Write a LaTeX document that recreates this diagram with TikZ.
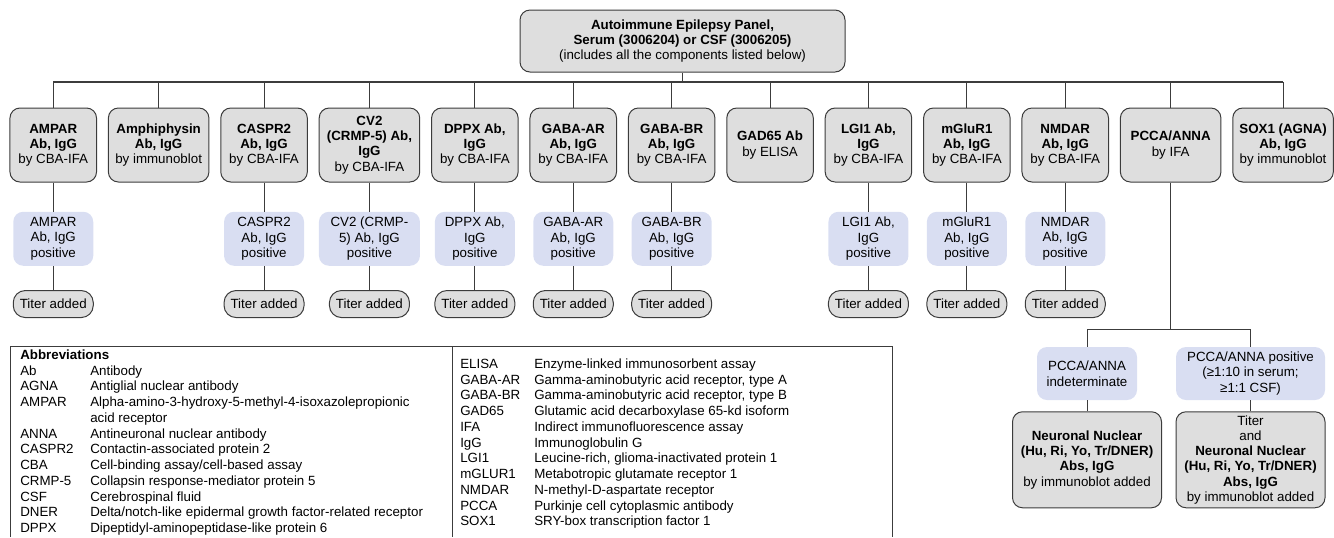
\documentclass[tikz,border=0pt]{standalone}
\usepackage{fontspec}
\setmainfont{Liberation Sans}
\usepackage{xcolor}
\usepackage{tikz}
\usetikzlibrary{positioning}

\definecolor{panelgray}{RGB}{222,222,222}
\definecolor{resultblue}{RGB}{217,222,242}
\definecolor{linegray}{RGB}{60,60,60}

\tikzset{
    testbox/.style={draw=linegray, line width=0.75pt, rectangle, rounded corners=7.5pt, fill=panelgray, align=center, minimum height=55.5pt, inner sep=1.5pt, font=\fontsize{10}{11.4}\selectfont},
    narrow/.style={minimum width=64.9pt},
    wide/.style={minimum width=75.4pt},
    resultbox/.style={rectangle, rounded corners=7.5pt, fill=resultblue, align=center, minimum height=40.5pt, minimum width=60pt, inner sep=1.5pt, font=\fontsize{10}{11.8}\selectfont},
    titerbox/.style={draw=linegray, line width=0.75pt, rectangle, rounded corners=9pt, fill=panelgray, minimum width=60pt, minimum height=20.25pt, inner sep=1pt, font=\fontsize{10}{11.4}\selectfont},
    link/.style={draw=linegray, line width=0.6pt},
    abbrev/.style={anchor=base west, inner sep=0pt, font=\fontsize{10}{11.8}\selectfont}
}

\begin{document}
\begin{tikzpicture}[x=0.75pt, y=-0.75pt]
        \useasboundingbox (0,0) rectangle (1334,537);

        % Nodes
        % Panel
        \node (panel) [testbox, minimum width=243.75pt, minimum height=46.5pt] at (682.5,41) {\textbf{Autoimmune Epilepsy Panel,}\\\textbf{Serum (3006204) or CSF (3006205)}\\(includes all the components listed below)};

        % Tests
        \node (ampar) [testbox, narrow] at (53.25,145) {\textbf{AMPAR}\\\textbf{Ab, IgG}\\by CBA-IFA};
        \node (amph) [right=8.15pt of ampar, testbox, wide] {\textbf{Amphiphysin}\\\textbf{Ab, IgG}\\by immunoblot};
        \node (caspr_2) [right=8.15pt of amph, testbox, narrow] {\textbf{CASPR2}\\\textbf{Ab, IgG}\\by CBA-IFA};
        \node (cv_2) [right=8.15pt of caspr_2, testbox, wide] {\textbf{CV2}\\\textbf{(CRMP-5) Ab,}\\\textbf{IgG}\\by CBA-IFA};
        \node (dppx) [right=8.15pt of cv_2, testbox, narrow] {\textbf{DPPX Ab,}\\\textbf{IgG}\\by CBA-IFA};
        \node (gaba_ar) [right=8.15pt of dppx, testbox, narrow] {\textbf{GABA-AR}\\\textbf{Ab, IgG}\\by CBA-IFA};
        \node (gaba_br) [right=8.15pt of gaba_ar, testbox, narrow] {\textbf{GABA-BR}\\\textbf{Ab, IgG}\\by CBA-IFA};
        \node (gad_65) [right=8.15pt of gaba_br, testbox, narrow] {\textbf{GAD65 Ab}\\by ELISA};
        \node (lgi_1) [right=8.15pt of gad_65, testbox, narrow] {\textbf{LGI1 Ab,}\\\textbf{IgG}\\by CBA-IFA};
        \node (mglur_1) [right=8.15pt of lgi_1, testbox, narrow] {\textbf{mGluR1}\\\textbf{Ab, IgG}\\by CBA-IFA};
        \node (nmdar) [right=8.15pt of mglur_1, testbox, narrow] {\textbf{NMDAR}\\\textbf{Ab, IgG}\\by CBA-IFA};
        \node (pcca) [right=8.15pt of nmdar, testbox, wide] {\textbf{PCCA/ANNA}\\by IFA};
        \node (sox_1) [right=8.15pt of pcca, testbox, wide] {\textbf{SOX1 (AGNA)}\\\textbf{Ab, IgG}\\by immunoblot};

        % Results
        \node (ampar_pos) [below=21.75pt of ampar, resultbox] {AMPAR\\Ab, IgG\\positive};
        \node (caspr_2_pos) [below=21.75pt of caspr_2, resultbox] {CASPR2\\Ab, IgG\\positive};
        \node (cv_2_pos) [below=21.75pt of cv_2, resultbox, minimum width=75.75pt] {CV2 (CRMP-\\5) Ab, IgG\\positive};
        \node (dppx_pos) [below=21.75pt of dppx, resultbox] {DPPX Ab,\\IgG\\positive};
        \node (gaba_ar_pos) [below=21.75pt of gaba_ar, resultbox] {GABA-AR\\Ab, IgG\\positive};
        \node (gaba_br_pos) [below=21.75pt of gaba_br, resultbox] {GABA-BR\\Ab, IgG\\positive};
        \node (lgi_1_pos) [below=21.75pt of lgi_1, resultbox] {LGI1 Ab,\\IgG\\positive};
        \node (mglur_1_pos) [below=21.75pt of mglur_1, resultbox] {mGluR1\\Ab, IgG\\positive};
        \node (nmdar_pos) [below=21.75pt of nmdar, resultbox] {NMDAR\\Ab, IgG\\positive};

        % Titers
        \node (ampar_titer) [below=18pt of ampar_pos, titerbox] {Titer added};
        \node (caspr_2_titer) [below=18pt of caspr_2_pos, titerbox] {Titer added};
        \node (cv_2_titer) [below=18pt of cv_2_pos, titerbox] {Titer added};
        \node (dppx_titer) [below=18pt of dppx_pos, titerbox] {Titer added};
        \node (gaba_ar_titer) [below=18pt of gaba_ar_pos, titerbox] {Titer added};
        \node (gaba_br_titer) [below=18pt of gaba_br_pos, titerbox] {Titer added};
        \node (lgi_1_titer) [below=18pt of lgi_1_pos, titerbox] {Titer added};
        \node (mglur_1_titer) [below=18pt of mglur_1_pos, titerbox] {Titer added};
        \node (nmdar_titer) [below=18pt of nmdar_pos, titerbox] {Titer added};

        % PCCA/ANNA branches
        \coordinate (split) at (1171,329);
        \node (pcca_ind) [resultbox, minimum width=75pt, minimum height=39.75pt] at (1087,373.5) {PCCA/ANNA\\indeterminate};
        \node (pcca_pos) [resultbox, minimum width=111.75pt, minimum height=39.75pt] at (1250.5,373.5) {PCCA/ANNA positive\\(≥1:10 in serum;\\≥1:1 CSF)};
        \node (nn_ind) [below=8.25pt of pcca_ind, testbox, minimum width=111.75pt, minimum height=72pt] {\textbf{Neuronal Nuclear}\\\textbf{(Hu, Ri, Yo, Tr/DNER)}\\\textbf{Abs, IgG}\\by immunoblot added};
        \node (nn_pos) [below=8.25pt of pcca_pos, testbox, minimum width=111.75pt, minimum height=72pt] {Titer\\and\\\textbf{Neuronal Nuclear}\\\textbf{(Hu, Ri, Yo, Tr/DNER)}\\\textbf{Abs, IgG}\\by immunoblot added};

        % Lines
        \coordinate (bus) at (0,82);
        \draw[link] (panel.south) -- (panel.south |- bus);
        \draw[link, line width=0.9pt] (ampar.north |- bus) -- (sox_1.north |- bus);
        \draw[link] (ampar.north |- bus) -- (ampar.north);
        \draw[link] (amph.north |- bus) -- (amph.north);
        \draw[link] (caspr_2.north |- bus) -- (caspr_2.north);
        \draw[link] (cv_2.north |- bus) -- (cv_2.north);
        \draw[link] (dppx.north |- bus) -- (dppx.north);
        \draw[link] (gaba_ar.north |- bus) -- (gaba_ar.north);
        \draw[link] (gaba_br.north |- bus) -- (gaba_br.north);
        \draw[link] (gad_65.north |- bus) -- (gad_65.north);
        \draw[link] (lgi_1.north |- bus) -- (lgi_1.north);
        \draw[link] (mglur_1.north |- bus) -- (mglur_1.north);
        \draw[link] (nmdar.north |- bus) -- (nmdar.north);
        \draw[link] (pcca.north |- bus) -- (pcca.north);
        \draw[link] (sox_1.north |- bus) -- (sox_1.north);

        \draw[link] (ampar) -- (ampar_pos) -- (ampar_titer);
        \draw[link] (caspr_2) -- (caspr_2_pos) -- (caspr_2_titer);
        \draw[link] (cv_2) -- (cv_2_pos) -- (cv_2_titer);
        \draw[link] (dppx) -- (dppx_pos) -- (dppx_titer);
        \draw[link] (gaba_ar) -- (gaba_ar_pos) -- (gaba_ar_titer);
        \draw[link] (gaba_br) -- (gaba_br_pos) -- (gaba_br_titer);
        \draw[link] (lgi_1) -- (lgi_1_pos) -- (lgi_1_titer);
        \draw[link] (mglur_1) -- (mglur_1_pos) -- (mglur_1_titer);
        \draw[link] (nmdar) -- (nmdar_pos) -- (nmdar_titer);

        \draw[link] (pcca.south) -- (pcca.south |- split);
        \draw[link] (pcca_ind.north |- split) -- (pcca_pos.north |- split);
        \draw[link] (pcca_ind.north |- split) -- (pcca_ind.north);
        \draw[link] (pcca_pos.north |- split) -- (pcca_pos.north);
        \draw[link] (pcca_ind) -- (nn_ind);
        \draw[link] (pcca_pos) -- (nn_pos);

        % Abbreviations
        \draw[line width=0.75pt, linegray] (10,537) |- (892,346) -- (892,537);
        \draw[line width=0.75pt, linegray] (452,346) -- (452,537);

        \node (abbr_left) [abbrev] at (20,359.5) {\begin{tabular}[t]{@{}p{52.5pt}@{}l@{}}
            \multicolumn{2}{@{}l@{}}{\textbf{Abbreviations}}\\
            Ab & Antibody\\
            AGNA & Antiglial nuclear antibody\\
            AMPAR & Alpha-amino-3-hydroxy-5-methyl-4-isoxazolepropionic\\
             & acid receptor\\
            ANNA & Antineuronal nuclear antibody\\
            CASPR2 & Contactin-associated protein 2\\
            CBA & Cell-binding assay/cell-based assay\\
            CRMP-5 & Collapsin response-mediator protein 5\\
            CSF & Cerebrospinal fluid\\
            DNER & Delta/notch-like epidermal growth factor-related receptor\\
            DPPX & Dipeptidyl-aminopeptidase-like protein 6
        \end{tabular}};

        \node (abbr_right) [abbrev] at (460,368.5) {\begin{tabular}[t]{@{}p{55.5pt}@{}l@{}}
            ELISA & Enzyme-linked immunosorbent assay\\
            GABA-AR & Gamma-aminobutyric acid receptor, type A\\
            GABA-BR & Gamma-aminobutyric acid receptor, type B\\
            GAD65 & Glutamic acid decarboxylase 65-kd isoform\\
            IFA & Indirect immunofluorescence assay\\
            IgG & Immunoglobulin G\\
            LGI1 & Leucine-rich, glioma-inactivated protein 1\\
            mGLUR1 & Metabotropic glutamate receptor 1\\
            NMDAR & N-methyl-D-aspartate receptor\\
            PCCA & Purkinje cell cytoplasmic antibody\\
            SOX1 & SRY-box transcription factor 1
        \end{tabular}};

    \end{tikzpicture}
\end{document}
